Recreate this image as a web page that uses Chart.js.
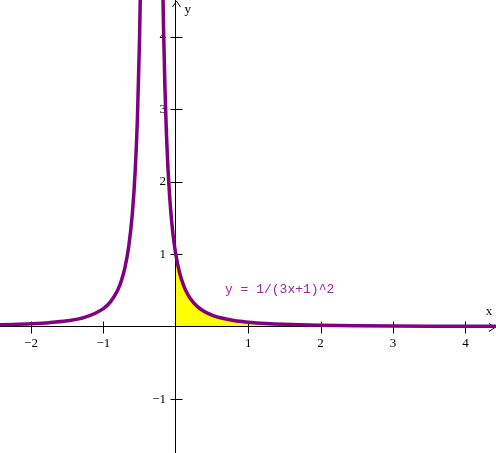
<!DOCTYPE html>
<html>
<head>
<meta charset="utf-8">
<script src="https://cdn.jsdelivr.net/npm/chart.js@4/dist/chart.umd.min.js"></script>
<style>
  html, body { margin: 0; padding: 0; background: #ffffff; }
  #wrap { width: 496px; height: 453px; }
</style>
</head>
<body>
<div id="wrap"><canvas id="c" width="496" height="453"></canvas></div>
<script>
// ---- data: y = 1/(3x+1)^2 ----
const leftX  = [-2.5, -2.25, -2, -1.75, -1.5, -1.25, -1, -0.9, -0.8, -0.75, -0.7, -0.65, -0.6, -0.56, -0.53, -0.5, -0.48];
const leftY  = [0.0237, 0.0303, 0.04, 0.0554, 0.0816, 0.1322, 0.25, 0.346, 0.510, 0.64, 0.826, 1.108, 1.5625, 2.163, 2.873, 4.0, 5.165];
const rightX = [-0.18, -0.17, -0.15, -0.13, -0.11, -0.09, -0.07, -0.05, -0.025, 0, 0.05, 0.1, 0.15, 0.2, 0.3, 0.4, 0.5, 0.6, 0.8, 1, 1.25, 1.5, 2, 2.5, 3, 3.5, 4, 4.5];
const rightY = [4.726, 4.165, 3.306, 2.687, 2.228, 1.877, 1.602, 1.384, 1.169, 1.0, 0.756, 0.592, 0.476, 0.391, 0.277, 0.207, 0.16, 0.128, 0.0865, 0.0625, 0.0443, 0.0331, 0.0204, 0.0138, 0.01, 0.0076, 0.0059, 0.0048];
const fillX  = [0, 0.05, 0.1, 0.15, 0.2, 0.3, 0.4, 0.5, 0.6, 0.8, 1, 1.25, 1.5, 1.6];
const fillY  = [1.0, 0.756, 0.592, 0.476, 0.391, 0.277, 0.207, 0.16, 0.128, 0.0865, 0.0625, 0.0443, 0.0331, 0.0297];
const xTicks = [-2, -1, 1, 2, 3, 4];
const yTicks = [-1, 1, 2, 3, 4];
const equationLabel = 'y = 1/(3x+1)^2';
const xAxisName = 'x';
const yAxisName = 'y';

const toPts = (xs, ys) => xs.map((x, i) => ({ x: x, y: ys[i] }));

const CURVE = '#800080';
const LABEL_FONT = '13px "Liberation Serif", "Times New Roman", serif';

const fmt = v => (v === 0 ? '' : (v < 0 ? '\u2212' + Math.abs(v) : String(v)));

const decor = {
  id: 'decor',
  beforeDatasetsDraw(chart) {
    const { ctx, scales: { x, y } } = chart;
    const x0 = Math.round(x.getPixelForValue(0)) + 0.5;
    const y0 = Math.round(y.getPixelForValue(0)) + 0.5;
    ctx.save();
    ctx.strokeStyle = '#000';
    ctx.lineWidth = 1;
    ctx.beginPath();
    xTicks.forEach(v => {
      const px = Math.round(x.getPixelForValue(v)) + 0.5;
      ctx.moveTo(px, y0 - 6); ctx.lineTo(px, y0 + 6);
    });
    yTicks.forEach(v => {
      const py = Math.round(y.getPixelForValue(v)) + 0.5;
      ctx.moveTo(x0 - 6, py); ctx.lineTo(x0 + 6, py);
    });
    // arrowheads
    const top = chart.chartArea.top;
    const right = chart.chartArea.right;
    ctx.moveTo(x0 - 4, top + 7); ctx.lineTo(x0, top + 1); ctx.lineTo(x0 + 4, top + 7);
    ctx.moveTo(right - 7, y0 - 4); ctx.lineTo(right - 1, y0); ctx.lineTo(right - 7, y0 + 4);
    ctx.stroke();
    ctx.restore();
  },
  afterDraw(chart) {
    const { ctx, scales: { x, y } } = chart;
    ctx.save();
    ctx.fillStyle = '#000';
    ctx.font = LABEL_FONT;
    ctx.textAlign = 'center';
    ctx.textBaseline = 'middle';
    ctx.fillText(xAxisName, chart.chartArea.right - 7, y.getPixelForValue(0) - 15);
    ctx.fillText(yAxisName, x.getPixelForValue(0) + 12, chart.chartArea.top + 10);
    ctx.font = '13px "Liberation Mono", "Courier New", monospace';
    ctx.fillStyle = '#9a2a9a';
    ctx.textAlign = 'left';
    ctx.fillText(equationLabel, x.getPixelForValue(0.68), y.getPixelForValue(0.52));
    ctx.restore();
  }
};

const zeroPad = s => { s.paddingLeft = 0; s.paddingRight = 0; s.paddingTop = 0; s.paddingBottom = 0; };

new Chart(document.getElementById('c'), {
  type: 'scatter',
  data: {
    datasets: [
      { data: toPts(leftX, leftY), showLine: true, borderColor: CURVE, borderWidth: 3.5, pointRadius: 0, fill: false, cubicInterpolationMode: 'monotone' },
      { data: toPts(rightX, rightY), showLine: true, borderColor: CURVE, borderWidth: 3.5, pointRadius: 0, fill: false, cubicInterpolationMode: 'monotone' },
      { data: toPts(fillX, fillY), showLine: true, borderWidth: 0, borderColor: 'rgba(0,0,0,0)', backgroundColor: '#ffff00', pointRadius: 0, fill: 'origin', cubicInterpolationMode: 'monotone' }
    ]
  },
  options: {
    responsive: false,
    maintainAspectRatio: false,
    animation: false,
    layout: { padding: 0 },
    plugins: {
      legend: { display: false },
      tooltip: { enabled: false },
      filler: { drawTime: 'beforeDraw' }
    },
    scales: {
      x: {
        type: 'linear',
        position: { y: 0 },
        min: -2.428, max: 4.423,
        afterFit: zeroPad,
        grid: { display: true, drawOnChartArea: false, drawTicks: false },
        border: { display: true, color: '#000', width: 1 },
        ticks: { stepSize: 1, includeBounds: false, autoSkip: false, maxRotation: 0, padding: 9, color: '#000', font: { family: '"Liberation Serif", "Times New Roman", serif', size: 13 }, callback: v => fmt(v) }
      },
      y: {
        type: 'linear',
        position: { x: 0 },
        min: -1.744, max: 4.512,
        afterFit: zeroPad,
        grid: { display: true, drawOnChartArea: false, drawTicks: false },
        border: { display: true, color: '#000', width: 1 },
        ticks: { stepSize: 1, includeBounds: false, autoSkip: false, padding: 9, color: '#000', font: { family: '"Liberation Serif", "Times New Roman", serif', size: 13 }, callback: v => { const s = fmt(v); return s ? s + '   ' : ''; } }
      }
    }
  },
  plugins: [decor]
});
</script>
</body>
</html>
